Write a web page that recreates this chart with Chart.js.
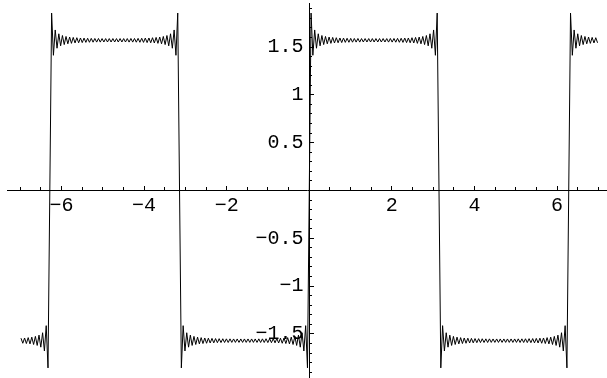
<!DOCTYPE html>
<html>
<head>
<meta charset="utf-8">
<script src="https://cdn.jsdelivr.net/npm/chart.js@4/dist/chart.umd.min.js"></script>
<style>
  html, body { margin: 0; padding: 0; background: #fff; overflow: hidden; }
  #c { display: block; }
</style>
</head>
<body>
<canvas id="c" width="607" height="378"></canvas>
<script>
// One half wave of the curve: values at equal steps from one jump to the next
const halfWaveProfile = [
  0, 1.856, 1.414, 1.679, 1.488, 1.639, 1.513, 1.621, 1.526, 1.611, 1.534, 1.605, 1.539,
  1.601, 1.543, 1.598, 1.545, 1.595, 1.547, 1.594, 1.549, 1.592, 1.550, 1.591, 1.551,
  1.590, 1.552, 1.590, 1.552, 1.589, 1.553, 1.589, 1.553, 1.589, 1.553, 1.589, 1.553,
  1.589, 1.553, 1.589, 1.553, 1.589, 1.553, 1.589, 1.552, 1.590, 1.552, 1.590, 1.551,
  1.591, 1.550, 1.592, 1.549, 1.594, 1.547, 1.595, 1.545, 1.598, 1.543, 1.601, 1.539,
  1.605, 1.534, 1.611, 1.526, 1.621, 1.513, 1.639, 1.488, 1.679, 1.414, 1.856, 0
];
// The jumps sit at multiples of this spacing (±π, ±2π on the x axis)
const jumpSpacing = 3.1416;
// Signs of the successive half waves, starting with the one that begins at -3π
const halfWaveSigns = [-1, 1, -1, 1, -1, 1];
const firstHalfWaveIndex = -3;
const curveStart = -7;
const curveEnd = 7;

// Axis ranges and ticks
const xRange = [-7.32, 7.21];
const yRange = [-1.951, 1.961];
const xMajorTicks = [-6, -4, -2, 2, 4, 6];
const xMajorLabels = ["\u22126", "\u22124", "\u22122", "2", "4", "6"];
const xMinorTicks = [-7, -6.5, -5.5, -5, -4.5, -3.5, -3, -2.5, -1.5, -1, -0.5,
                     0.5, 1, 1.5, 2.5, 3, 3.5, 4.5, 5, 5.5, 6.5, 7];
const yMajorTicks = [-1.5, -1, -0.5, 0.5, 1, 1.5];
const yMajorLabels = ["\u22121.5", "\u22121", "\u22120.5", "0.5", "1", "1.5"];
const yMinorTicks = [-1.9, -1.8, -1.7, -1.6, -1.4, -1.3, -1.2, -1.1, -0.9, -0.8, -0.7, -0.6,
                     -0.4, -0.3, -0.2, -0.1, 0.1, 0.2, 0.3, 0.4, 0.6, 0.7, 0.8, 0.9,
                     1.1, 1.2, 1.3, 1.4, 1.6, 1.7, 1.8, 1.9];
// y labels sit a little to the left of the vertical axis
const yLabelColumnX = -0.14;

// Build the point table from the half-wave profile
const curvePoints = [];
const steps = halfWaveProfile.length - 1;
halfWaveSigns.forEach((sign, k) => {
  const start = (firstHalfWaveIndex + k) * jumpSpacing;
  for (let j = 0; j < steps; j++) {
    const x = start + j * jumpSpacing / steps;
    if (x >= curveStart && x <= curveEnd) {
      curvePoints.push({ x: x, y: sign * halfWaveProfile[j] });
    }
  }
});

const FONT = { family: "'Liberation Mono', 'DejaVu Sans Mono', monospace", size: 20 };
const zeroPad = s => { s.paddingLeft = 0; s.paddingRight = 0; s.paddingTop = 0; s.paddingBottom = 0; };

new Chart(document.getElementById('c'), {
  type: 'line',
  data: {
    datasets: [{
      data: curvePoints,
      borderColor: '#000',
      borderWidth: 1,
      pointRadius: 0,
      tension: 0,
      fill: false,
      xAxisID: 'x',
      yAxisID: 'y'
    }]
  },
  options: {
    responsive: false,
    animation: false,
    events: [],
    layout: { padding: { left: 7, right: 0, top: 3, bottom: 1 } },
    plugins: { legend: { display: false }, tooltip: { enabled: false } },
    scales: {
      x: {
        type: 'linear', axis: 'x', position: { y: 0 },
        min: xRange[0], max: xRange[1],
        afterBuildTicks: s => { s.ticks = xMajorTicks.map(v => ({ value: v })); },
        afterFit: zeroPad,
        ticks: {
          autoSkip: false, maxRotation: 0, color: '#000', font: FONT, padding: 8,
          callback: v => { const k = xMajorTicks.indexOf(v); return k >= 0 ? xMajorLabels[k] : ''; }
        },
        grid: { drawOnChartArea: false, drawTicks: true, tickLength: -5, tickColor: '#000', tickWidth: 1 },
        border: { display: true, color: '#000', width: 1 }
      },
      x2: {
        type: 'linear', axis: 'x', position: { y: 0 },
        min: xRange[0], max: xRange[1],
        afterBuildTicks: s => { s.ticks = xMinorTicks.map(v => ({ value: v })); },
        afterFit: zeroPad,
        ticks: { display: false, autoSkip: false },
        grid: { drawOnChartArea: false, drawTicks: true, tickLength: -3, tickColor: '#000', tickWidth: 1 },
        border: { display: false }
      },
      y: {
        type: 'linear', axis: 'y', position: { x: yLabelColumnX },
        min: yRange[0], max: yRange[1],
        afterBuildTicks: s => { s.ticks = yMajorTicks.map(v => ({ value: v })); },
        afterFit: zeroPad,
        ticks: {
          autoSkip: false, color: '#000', font: FONT, padding: 0,
          callback: v => { const k = yMajorTicks.indexOf(v); return k >= 0 ? yMajorLabels[k] : ''; }
        },
        grid: { display: false, drawOnChartArea: false, drawTicks: false },
        border: { display: false }
      },
      yAxisLine: {
        type: 'linear', axis: 'y', position: { x: 0 },
        min: yRange[0], max: yRange[1],
        afterBuildTicks: s => { s.ticks = yMajorTicks.map(v => ({ value: v })); },
        afterFit: zeroPad,
        ticks: { display: false, autoSkip: false },
        grid: { drawOnChartArea: false, drawTicks: true, tickLength: -5, tickColor: '#000', tickWidth: 1 },
        border: { display: true, color: '#000', width: 1 }
      },
      y2: {
        type: 'linear', axis: 'y', position: { x: 0 },
        min: yRange[0], max: yRange[1],
        afterBuildTicks: s => { s.ticks = yMinorTicks.map(v => ({ value: v })); },
        afterFit: zeroPad,
        ticks: { display: false, autoSkip: false },
        grid: { drawOnChartArea: false, drawTicks: true, tickLength: -3, tickColor: '#000', tickWidth: 1 },
        border: { display: false }
      }
    }
  }
});
</script>
</body>
</html>
